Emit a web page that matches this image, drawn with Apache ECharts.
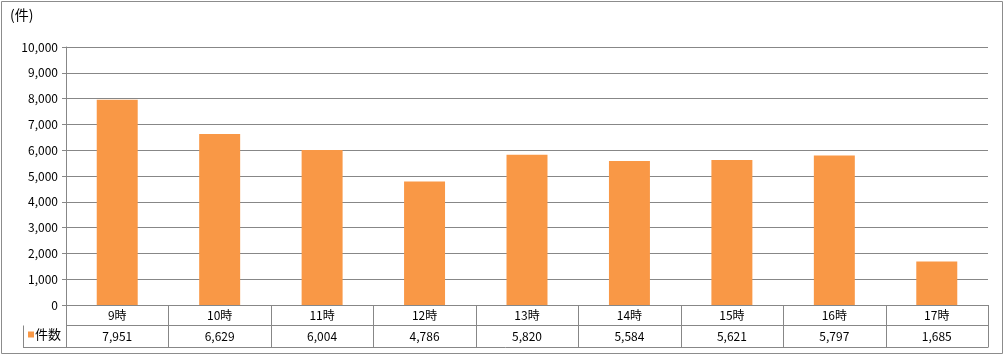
<!DOCTYPE html>
<html><head><meta charset="utf-8">
<script src="https://cdn.jsdelivr.net/npm/echarts@6/dist/echarts.min.js"></script>
<style>html,body{margin:0;padding:0;background:#fff}#c{width:1005px;height:356px}</style>
</head><body><div id="c"></div>
<script>
const categories = ['9時','10時','11時','12時','13時','14時','15時','16時','17時'];
const counts = [7951, 6629, 6004, 4786, 5820, 5584, 5621, 5797, 1685];
const yTicks = {min: 0, max: 10000, interval: 1000};
const seriesName = '件数';
const unitLabel = '(件)';

const W = 1005, H = 356;
const gl = 66, gr = 988, gt = 47, gb = 305;
const row1 = 325, row2 = 347, legendLeft = 23;
const lineColor = '#878787';
const fmt = v => v.toLocaleString('en-US');

const chart = echarts.init(document.getElementById('c'), null, {renderer: 'canvas'});
const n = categories.length;
const cw = (gr - gl) / n;
const g = [];
g.push({type:'rect', shape:{x:1.5,y:1.5,width:W-4,height:H-4}, style:{fill:'none', stroke:'#8c8c8c', lineWidth:1}, silent:true});
g.push({type:'text', left:10, top:8, style:{text:unitLabel, font:'14px "Noto Sans CJK JP", sans-serif', fill:'#000'}});
const ln = (x1,y1,x2,y2) => g.push({type:'line', shape:{x1,y1,x2,y2}, style:{stroke:lineColor, lineWidth:1}, silent:true});
ln(gl, row1+0.5, gr, row1+0.5);
ln(legendLeft+0.5, row1+0.5, legendLeft+0.5, row2+0.5);
ln(legendLeft, row2+0.5, gr, row2+0.5);
for (let i = 0; i <= n; i++) {
  const x = Math.round(gl + i*cw) + 0.5;
  ln(x, gb, x, row2+0.5);
}

chart.setOption({
  animation: false,
  textStyle: {fontFamily: '"Noto Sans CJK JP", sans-serif'},
  grid: {left: gl, right: W - gr, top: gt, bottom: H - gb},
  legend: {
    data: [seriesName], left: 28, top: row1 + 3, icon: 'rect', itemWidth: 6, itemHeight: 6, itemGap: 2,
    textStyle: {fontSize: 13, color: '#000', padding: [0,0,0,-4]}, padding: 0
  },
  xAxis: [{
    type: 'category', data: categories, position: 'bottom',
    axisLine: {show: true, lineStyle: {color: lineColor}}, axisTick: {show: false},
    axisLabel: {color: '#000', fontSize: 12, margin: 4}
  }, {
    type: 'category', data: counts.map(fmt), position: 'bottom', offset: 21,
    axisLine: {show: false}, axisTick: {show: false},
    axisLabel: {color: '#000', fontSize: 12, margin: 4}
  }],
  yAxis: {
    type: 'value', min: yTicks.min, max: yTicks.max, interval: yTicks.interval,
    axisLine: {show: true, lineStyle: {color: lineColor}},
    axisTick: {show: true, length: 4, lineStyle: {color: lineColor}},
    axisLabel: {color: '#000', fontSize: 12, margin: 8, formatter: v => fmt(v)},
    splitLine: {show: true, lineStyle: {color: lineColor, width: 1}}
  },
  series: [{
    name: seriesName, type: 'bar', data: counts, barWidth: '40%',
    itemStyle: {color: '#F99846'}
  }],
  graphic: g
});
</script></body></html>
